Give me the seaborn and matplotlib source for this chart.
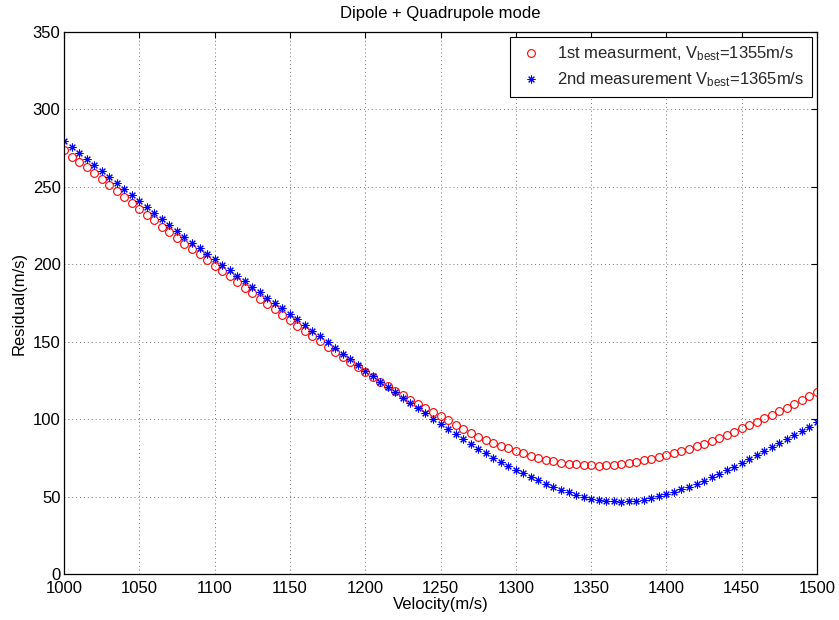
import numpy as np
import pandas as pd
import matplotlib
matplotlib.use("Agg")
import matplotlib.pyplot as plt
import seaborn as sns

# Trial velocities (m/s), one every 5 m/s
velocity = list(range(1000, 1505, 5))

# Residual of the 1st measurement (m/s)
residual_1st = [
    273.8, 269.5, 265.8, 262.6, 258.7, 254.9, 251.2, 247.3, 243.4, 239.6,
    235.9, 232.0, 228.4, 224.3, 220.6, 216.8, 213.0, 209.9, 206.4, 202.8,
    199.1, 195.7, 192.2, 188.6, 185.0, 181.3, 177.9, 174.3, 170.9, 167.5,
    164.0, 160.4, 157.0, 153.8, 150.2, 146.8, 143.6, 140.3, 136.9, 133.5,
    130.2, 127.0, 124.0, 121.1, 118.3, 115.4, 112.6, 109.7, 107.0, 104.5,
    102.0, 99.2, 96.3, 93.5, 90.9, 88.6, 86.5, 84.6, 82.9, 81.2,
    79.6, 78.0, 76.5, 75.1, 73.9, 72.8, 72.0, 71.3, 70.8, 70.4,
    70.1, 70.0, 70.1, 70.4, 70.9, 71.6, 72.4, 73.3, 74.3, 75.4,
    76.6, 77.9, 79.4, 80.9, 82.5, 84.2, 86.0, 87.9, 89.9, 91.9,
    94.0, 96.1, 98.3, 100.5, 102.8, 105.1, 107.4, 109.8, 112.2, 114.7,
    117.3,
]

# Residual of the 2nd measurement (m/s)
residual_2nd = [
    279.6, 275.7, 271.8, 267.9, 264.0, 260.1, 256.2, 252.4, 248.5, 244.6,
    240.7, 236.8, 232.9, 229.0, 225.2, 221.3, 217.5, 213.9, 210.3, 206.8,
    203.3, 199.7, 196.1, 192.6, 189.0, 185.5, 182.0, 178.5, 175.0, 171.6,
    168.2, 164.5, 160.8, 157.1, 153.4, 149.7, 146.0, 142.3, 138.7, 135.0,
    131.3, 127.6, 124.1, 120.7, 117.3, 113.9, 110.5, 107.1, 103.8, 100.4,
    97.0, 93.7, 90.4, 87.2, 84.1, 81.0, 78.1, 75.2, 72.4, 69.8,
    67.3, 64.9, 62.6, 60.4, 58.3, 56.3, 54.4, 52.7, 51.1, 49.8,
    48.7, 47.9, 47.3, 46.9, 46.8, 46.9, 47.4, 48.1, 49.0, 50.1,
    51.4, 52.9, 54.6, 56.4, 58.3, 60.3, 62.4, 64.6, 66.9, 69.3,
    71.7, 74.2, 76.7, 79.2, 81.8, 84.4, 87.0, 89.6, 92.3, 95.2,
    98.2,
]

label_1st = r"1st measurment, V$_{\mathrm{best}}$=1355m/s"
label_2nd = r"2nd measurement V$_{\mathrm{best}}$=1365m/s"

x_ticks = list(range(1000, 1501, 50))
y_ticks = list(range(0, 351, 50))

sns.set_theme(style="white")
plt.rcParams["font.family"] = ["Liberation Sans", "DejaVu Sans"]
plt.rcParams["mathtext.fontset"] = "custom"
plt.rcParams["mathtext.rm"] = "Liberation Sans"
plt.rcParams["mathtext.it"] = "Liberation Sans:italic"

df1 = pd.DataFrame({"v": velocity, "r": residual_1st})
df2 = pd.DataFrame({"v": velocity, "r": residual_2nd})

fig = plt.figure(figsize=(8.39, 6.20), dpi=100)
ax = fig.add_axes([64 / 839, 46 / 620, 753 / 839, 542 / 620])

sns.lineplot(data=df1, x="v", y="r", ax=ax, linestyle="", marker="o",
             markersize=5.6, markerfacecolor="none", markeredgecolor="red",
             markeredgewidth=0.8, color="red", label=label_1st)
sns.lineplot(data=df2, x="v", y="r", ax=ax, linestyle="", marker=(8, 2, 0),
             markersize=5.6, markeredgecolor="blue", markeredgewidth=0.75,
             color="blue", label=label_2nd)

ax.set_xlim(1000, 1500)
ax.set_ylim(0, 350)
ax.set_xticks(x_ticks)
ax.set_yticks(y_ticks)

ax.grid(True, linestyle=(0, (1, 3)), color="0.45", linewidth=0.7)
for s in ax.spines.values():
    s.set_color("black")
    s.set_linewidth(0.9)
ax.tick_params(axis="both", which="major", direction="in", length=4.5,
               width=0.8, color="black", labelsize=12, labelcolor="black",
               top=True, right=True)
ax.tick_params(axis="y", pad=2.5)
ax.tick_params(axis="x", pad=5)

ax.set_title("Dipole + Quadrupole mode", fontsize=12, pad=10, color="black")
ax.set_xlabel("Velocity(m/s)", fontsize=12, color="black", labelpad=1)
ax.set_ylabel("Residual(m/s)", fontsize=12, color="black", labelpad=4)

leg = ax.legend(loc="upper right", fontsize=12, frameon=True, fancybox=False,
                framealpha=1, edgecolor="black", borderaxespad=0.3,
                handlelength=1.6, handletextpad=0.8, labelspacing=0.45,
                borderpad=0.45)
leg.get_frame().set_linewidth(0.8)

fig.savefig("out.png", dpi=100)
